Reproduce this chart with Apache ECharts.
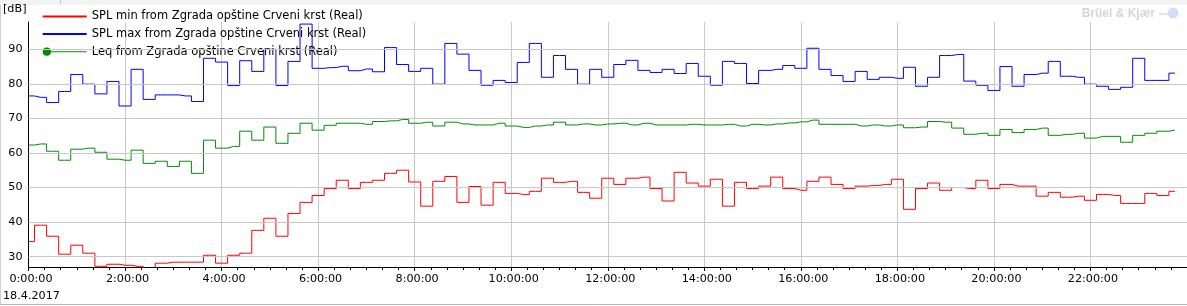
<!DOCTYPE html>
<html><head><meta charset="utf-8">
<script src="https://cdn.jsdelivr.net/npm/echarts@6/dist/echarts.min.js"></script>
<style>html,body{margin:0;padding:0;background:#fff}#c{width:1187px;height:306px}</style>
</head><body><div id="c"></div>
<script>
const times = ["0:00","0:15","0:30","0:45","1:00","1:15","1:30","1:45","2:00","2:15","2:30","2:45",
"3:00","3:15","3:30","3:45","4:00","4:15","4:30","4:45","5:00","5:15","5:30","5:45",
"6:00","6:15","6:30","6:45","7:00","7:15","7:30","7:45","8:00","8:15","8:30","8:45",
"9:00","9:15","9:30","9:45","10:00","10:15","10:30","10:45","11:00","11:15","11:30","11:45",
"12:00","12:15","12:30","12:45","13:00","13:15","13:30","13:45","14:00","14:15","14:30","14:45",
"15:00","15:15","15:30","15:45","16:00","16:15","16:30","16:45","17:00","17:15","17:30","17:45",
"18:00","18:15","18:30","18:45","19:00","19:15","19:30","19:45","20:00","20:15","20:30","20:45",
"21:00","21:15","21:30","21:45","22:00","22:15","22:30","22:45","23:00","23:15","23:30","23:45"];

const splMin = [34.4,39.1,35.9,30.7,33.3,31.0,27.2,27.8,27.5,27.2,26.0,28.1,
28.4,28.4,28.4,30.4,28.1,30.4,31.0,37.6,41.1,35.9,42.5,45.7,
47.7,49.7,52.1,49.7,51.5,52.1,54.1,55.0,51.6,44.6,51.8,53.2,
45.7,50.3,44.9,51.5,48.3,48.0,48.9,52.7,51.5,51.8,48.6,46.9,
52.7,50.9,52.7,53.0,49.7,46.1,54.4,51.3,50.4,52.4,44.6,51.5,
49.7,50.4,53.0,49.7,49.2,51.8,53.0,50.9,49.7,50.4,50.6,50.9,
52.4,43.7,49.7,51.3,49.2,50.0,49.7,52.1,49.7,50.9,50.4,50.4,
47.5,48.6,47.2,47.5,46.3,48.0,47.7,45.4,45.4,48.3,47.7,48.9];

const splMax = [76.5,76.1,74.6,77.8,82.7,79.9,77.1,80.7,73.6,84.2,75.5,76.8,
76.8,76.5,74.9,87.4,86.3,79.5,86.7,83.6,90.0,79.5,86.5,97.3,
84.5,84.7,85.1,83.8,84.3,83.5,90.5,85.6,83.6,84.5,79.9,91.7,
88.6,83.9,79.6,81.0,80.4,86.2,91.7,81.9,88.2,84.2,79.9,84.2,
81.9,85.6,86.8,83.9,83.3,84.2,83.0,85.9,82.2,79.6,86.5,85.9,
80.1,83.9,84.2,85.3,84.5,90.3,84.2,82.4,80.7,83.6,81.3,81.9,
81.6,84.8,79.3,81.9,88.2,88.5,80.8,79.6,78.1,85.0,79.3,82.7,
83.1,86.5,82.2,81.9,79.9,79.3,78.4,79.0,87.4,81.0,81.0,83.1];

const leq = [62.3,62.6,60.5,57.9,61.1,61.4,60.2,58.2,57.9,60.8,57.0,57.6,
56.1,57.6,54.1,63.7,61.4,61.9,66.3,63.7,67.5,62.8,65.7,68.6,
66.6,68.0,68.6,68.6,68.3,69.1,69.3,69.7,68.6,68.9,67.8,68.9,
68.4,68.1,68.1,68.6,67.8,67.4,67.8,68.1,68.9,68.1,68.4,68.1,
68.4,68.6,68.1,68.6,68.1,68.1,68.1,68.3,68.1,68.1,68.3,67.8,
68.3,68.1,68.4,68.7,69.0,69.5,68.3,68.3,68.3,67.8,68.1,67.8,
68.1,67.3,67.5,69.1,68.9,67.2,65.4,65.7,65.1,66.8,65.9,66.8,
67.2,65.1,65.4,65.7,64.3,64.8,64.8,63.1,65.1,65.7,66.3,66.6];

const yTicks = [30,40,50,60,70,80,90];
const xTickLabels = ["0:00:00","2:00:00","4:00:00","6:00:00","8:00:00","10:00:00","12:00:00",
"14:00:00","16:00:00","18:00:00","20:00:00","22:00:00"];
const seriesNames = ["SPL min from Zgrada opštine Crveni krst (Real)",
"SPL max from Zgrada opštine Crveni krst (Real)",
"Leq from Zgrada opštine Crveni krst (Real)"];
const dateLabel = "18.4.2017";
const yUnit = "[dB]";
const brand = "Brüel & Kjær";

const FONT = "'DejaVu Sans', Verdana, sans-serif";
const toMin = s => { const p = s.split(":"); return (+p[0]) * 60 + (+p[1]); };
const mins = times.map(toMin);
const pairs = arr => arr.map((v, i) => [mins[i], v]);

const chart = echarts.init(document.getElementById('c'), null, {renderer: 'canvas'});
const mkLine = (name, data, color, symbol) => ({
  name, type: 'line', step: 'middle', data: pairs(data),
  showSymbol: false, symbol, symbolSize: 8, z: 3, clip: true,
  itemStyle: {color}, lineStyle: {color, width: 1},
  emphasis: {disabled: true}, animation: false
});

chart.setOption({
  animation: false,
  backgroundColor: '#fff',
  grid: {left: 27.3, top: 22, width: 1170.5, height: 245, containLabel: false},
  xAxis: {
    type: 'value', min: 0, max: 1440, interval: 120,
    axisLine: {show: true, onZero: false, lineStyle: {color: '#000', width: 1}},
    axisTick: {show: true, length: 4, lineStyle: {color: '#000'}},
    minorTick: {show: true, splitNumber: 6, length: 3, lineStyle: {color: '#000'}},
    axisLabel: {
      formatter: v => xTickLabels[Math.round(v / 120)] || '',
      color: '#000', fontFamily: FONT, fontSize: 11.2, margin: 7,
      padding: [0, 0, 0, 5], showMaxLabel: false
    },
    splitLine: {show: true, lineStyle: {color: '#c8c8c8', width: 1}},
    minorSplitLine: {show: false}
  },
  yAxis: {
    type: 'value', min: 27.0, max: 97.9,
    name: yUnit, nameLocation: 'end', nameGap: 7,
    nameTextStyle: {color: '#000', fontFamily: FONT, fontSize: 11.2, align: 'right', padding: [0, 2, 0, 0]},
    axisLine: {show: true, onZero: false, lineStyle: {color: '#000', width: 1}},
    axisTick: {show: false}, axisLabel: {show: false}, splitLine: {show: false}
  },
  legend: {
    orient: 'vertical', left: 36.7, top: 4.5, itemWidth: 44, itemHeight: 10, itemGap: 3.6,
    selectedMode: false, symbolKeepAspect: true,
    textStyle: {fontFamily: FONT, fontSize: 11.5, color: '#000', lineHeight: 14},
    data: [
      {name: seriesNames[0], itemStyle: {opacity: 0}},
      {name: seriesNames[1], itemStyle: {opacity: 0}},
      {name: seriesNames[2],
       icon: 'path://M8.4,4 L46,4 L46,5 L8.4,5 Z M0,4.5 A4.3,4.3 0 1 1 8.6,4.5 A4.3,4.3 0 1 1 0,4.5 Z'}
    ]
  },
  series: [
    {
      type: 'line', data: [], z: 1, silent: true,
      markLine: {
        silent: true, symbol: ['none', 'none'], animation: false,
        lineStyle: {color: '#c8c8c8', width: 1, type: 'solid'},
        label: {show: true, position: 'start', distance: 6, formatter: p => String(p.value),
                color: '#000', fontFamily: FONT, fontSize: 11.2},
        emphasis: {disabled: true},
        data: yTicks.map(v => ({yAxis: v}))
      }
    },
    mkLine(seriesNames[0], splMin, '#ff0000', 'none'),
    mkLine(seriesNames[1], splMax, '#0000ff', 'none'),
    mkLine(seriesNames[2], leq, '#008c00', 'circle')
  ],
  graphic: [
    {type: 'rect', silent: true, shape: {x: 0, y: 0, width: 1187, height: 5}, style: {fill: '#f3f3f3'}},
    {type: 'line', silent: true, shape: {x1: 60.5, y1: 0, x2: 60.5, y2: 4}, style: {stroke: '#c4c4c4', lineWidth: 1}},
    {type: 'line', silent: true, shape: {x1: 0.5, y1: 5, x2: 0.5, y2: 305}, style: {stroke: '#d0d0d0', lineWidth: 1}},
    {type: 'line', silent: true, shape: {x1: 0, y1: 304.5, x2: 1187, y2: 304.5}, style: {stroke: '#b8b8b8', lineWidth: 1}},
    {type: 'text', silent: true, left: 3, top: 290.5,
     style: {text: dateLabel, fill: '#000', font: '11.2px ' + FONT}},
    {type: 'text', silent: true, x: 1155, y: 13.5,
     style: {text: brand, fill: '#d6d6d6', font: 'bold 12px "Liberation Sans", Arial, sans-serif', align: 'right', verticalAlign: 'middle'}},
    {type: 'circle', silent: true, shape: {cx: 1173, cy: 13, r: 5.5}, style: {fill: '#d3def2'}},
    {type: 'line', silent: true, shape: {x1: 1159, y1: 14, x2: 1168, y2: 14}, style: {stroke: '#d3def2', lineWidth: 1.5}}
  ]
});
</script></body></html>
